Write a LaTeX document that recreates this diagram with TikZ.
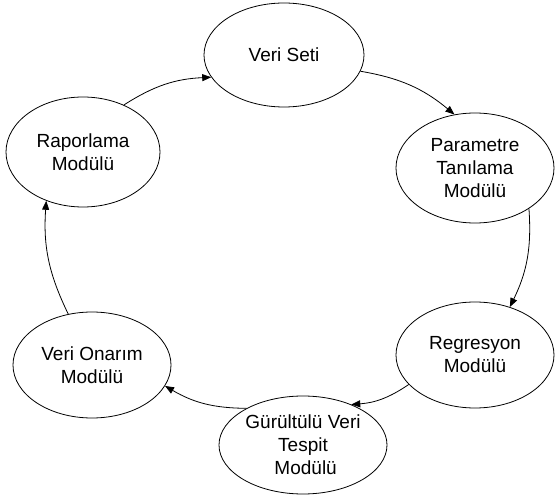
\documentclass[tikz,border=0pt]{standalone}
\usepackage{fontspec}
\setmainfont{Liberation Sans}
\usetikzlibrary{shapes.geometric,arrows.meta}
\begin{document}
\begin{tikzpicture}[x=1pt,y=-1pt,
  mod/.style={ellipse,draw,line width=0.8pt,inner sep=0pt,align=center,
    font=\fontsize{19}{23}\selectfont},
  flow/.style={line width=0.8pt,-{Triangle[length=9pt,width=7pt]},bend left=15}]
\useasboundingbox (0,0) rectangle (555,497);
\node[mod,minimum width=160pt,minimum height=104pt] (vs) at (284,55) {Veri Seti};
\node[mod,minimum width=158pt,minimum height=110pt] (par) at (475,168) {Parametre\\Tanılama\\Modülü};
\node[mod,minimum width=158pt,minimum height=106pt] (reg) at (475,355) {Regresyon\\Modülü};
\node[mod,minimum width=168pt,minimum height=98pt] (gur) at (303,445) {Gürültülü Veri\\Tespit\\\ Modülü};
\node[mod,minimum width=158pt,minimum height=106pt] (ona) at (92,365) {Veri Onarım\\Modülü};
\node[mod,minimum width=154pt,minimum height=110pt] (rap) at (83,152) {Raporlama\\Modülü};
\draw[flow] (vs.-12) to (par.111);
\draw[flow] (par.-37) to (reg.54);
\draw[flow] (reg.-156) to (gur.40);
\draw[flow] (gur.147) to (ona.-16);
\draw[flow] (ona.115) to (rap.-127);
\draw[flow] (rap.49) to (vs.-163);
\end{tikzpicture}
\end{document}
